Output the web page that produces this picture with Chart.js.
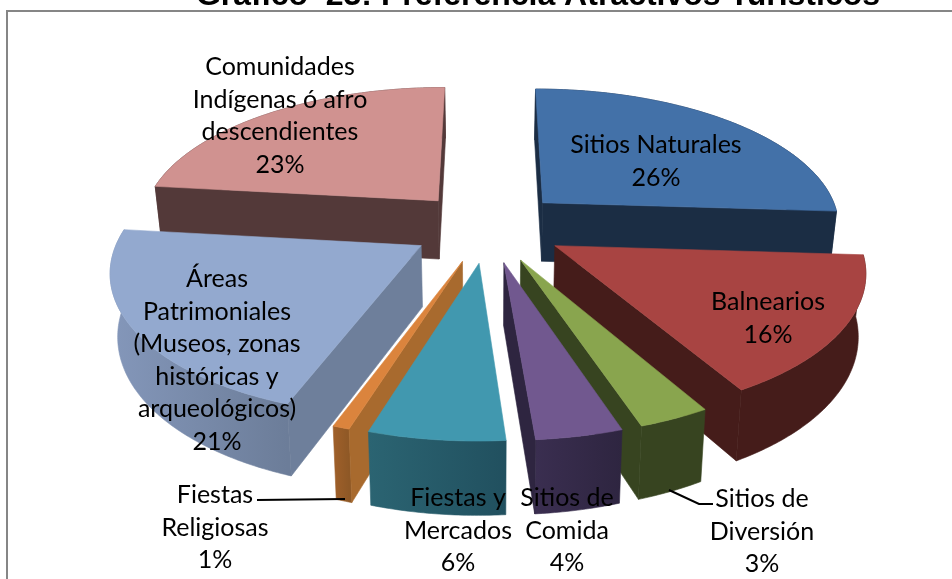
<!DOCTYPE html>
<html><head><meta charset="utf-8">
<script src="https://cdn.jsdelivr.net/npm/chart.js@4"></script>
<style>html,body{margin:0;padding:0;background:#fff;overflow:hidden}canvas{display:block}</style>
</head><body>
<div style="width:952px;height:579px;position:relative"><canvas id="c"></canvas></div>
<script>
const titleText = 'Gráfico  23: Preferencia Atractivos Turísticos';
const categories = ['Sitios Naturales','Balnearios','Sitios de\nDiversión','Sitios de\nComida','Fiestas y\nMercados','Fiestas\nReligiosas','Áreas\nPatrimoniales\n(Museos, zonas\nhistóricas y\narqueológicos)','Comunidades\nIndígenas ó afro\ndescendientes'];
const values = [26,15.7,3.2,3.86,6.04,0.75,21.25,23.2];
const topColors = ['#4371A8','#A84442','#89A54E','#71588F','#4198AF','#DB843D','#93A9CF','#D09290'];
const sideColors = ['#1B2D44','#451C1A','#374420','#2E2540','#2A5F6E','#A86A2E','#6E7F9B','#533939'];
const outerLight = ['#1B2D44','#451C1A','#374420','#3A2E50','#2B6472','#A0602A','#8497BA','#533939'];
const outerDark = ['#1B2D44','#451C1A','#374420','#2E2540','#21505F','#8E5826','#6C7D99','#533939'];
// label anchors (centre x, first-line centre y)
const labelAnchors = [[656,145],[768,302],[762,499],[567,498],[458,498],[215,495],[217,279],[280,67]];
const labelStep = 32.6;

const view = {horizonY:-673, depth:1950, height:60, converge:0.98};
const project = (el, px, py) => {
  const s = 1/(1-py/view.depth);
  return {x: el.x+px*s, y: view.horizonY+(el.y-view.horizonY)*s, s};
};
const drop = (el,p) => ({x: el.x+(p.x-el.x)*view.converge, y: p.y+view.height*p.s});
const poly = (c,pts,fill) => {
  c.fillStyle=fill; c.strokeStyle=fill; c.lineWidth=0.6;
  c.beginPath(); pts.forEach((p,j)=>j?c.lineTo(p.x,p.y):c.moveTo(p.x,p.y)); c.closePath(); c.fill(); c.stroke();
};
const cross = (o,u,v) => (u.x-o.x)*(v.y-o.y)-(u.y-o.y)*(v.x-o.x);
const pie3d = {
  id:'pie3d',
  beforeDraw(chart){
    const c = chart.ctx;
    c.save();
    c.fillStyle='#fff'; c.fillRect(0,0,chart.width,chart.height);
    c.strokeStyle='#868686'; c.lineWidth=2;
    c.beginPath(); c.moveTo(7,chart.height+2); c.lineTo(7,11); c.lineTo(chart.width+2,11); c.stroke();
    c.fillStyle='#000'; c.font='bold 32px "Liberation Sans"'; c.textAlign='center'; c.textBaseline='alphabetic';
    c.fillText(titleText,538,5);
    c.restore();
  },
  beforeDatasetsDraw(chart){
    const c = chart.ctx, arcs = chart.getDatasetMeta(0).data;
    const order = arcs.map((a,i)=>i).sort((i,j)=>{
      const m=a=>Math.sin((a.startAngle+a.endAngle)/2);
      return m(arcs[i])-m(arcs[j]);
    });
    for(const i of order){
      const a = arcs[i], R=a.outerRadius, off=a.options.offset, mid=(a.startAngle+a.endAngle)/2;
      const ox=Math.cos(mid)*off, oy=Math.sin(mid)*off;
      const n=Math.max(3,Math.ceil((a.endAngle-a.startAngle)*90));
      const rim=[];
      for(let k=0;k<=n;k++){
        const t=a.startAngle+(a.endAngle-a.startAngle)*k/n;
        rim.push(project(a,ox+R*Math.cos(t),oy+R*Math.sin(t)));
      }
      const apex=project(a,ox,oy), inner=rim[Math.floor(n/2)], dApex=drop(a,apex);
      const xs=rim.map(r=>r.x), g=c.createLinearGradient(Math.min(...xs),0,Math.max(...xs),0);
      g.addColorStop(0,outerLight[i]); g.addColorStop(1,outerDark[i]);
      poly(c,rim.concat(rim.map(r=>drop(a,r)).reverse()),g);
      for(const w of [rim[0],rim[n]]){
        if(cross(apex,w,inner)*cross(apex,w,dApex)<0) poly(c,[apex,w,drop(a,w),dApex],sideColors[i]);
      }
      poly(c,[apex].concat(rim),a.options.backgroundColor);
    }
    return false;
  },
  afterDraw(chart){
    const c=chart.ctx, total=values.reduce((s,v)=>s+v,0);
    c.save();
    c.strokeStyle='#000'; c.lineWidth=2;
    c.beginPath(); c.moveTo(257,500); c.lineTo(345,499);
    c.moveTo(669,490); c.lineTo(699,504); c.lineTo(713,504); c.stroke();
    c.fillStyle='#000'; c.font='25px Lato'; c.textAlign='center'; c.textBaseline='middle';
    categories.forEach((name,i)=>{
      const lines=name.split('\n').concat(Math.round(values[i]/total*100)+'%');
      lines.forEach((l,k)=>c.fillText(l,labelAnchors[i][0],labelAnchors[i][1]+k*labelStep));
    });
    c.restore();
  }
};
new Chart(document.getElementById('c'),{
  type:'pie',
  data:{labels:categories,datasets:[{data:values,backgroundColor:topColors,borderWidth:0,offset:77}]},
  options:{
    responsive:true,maintainAspectRatio:false,animation:false,
    radius:299,rotation:0,
    layout:{padding:{left:24,top:0,bottom:126,right:0}},
    plugins:{legend:{display:false},tooltip:{enabled:false}}
  },
  plugins:[pie3d]
});
</script>
</body></html>
